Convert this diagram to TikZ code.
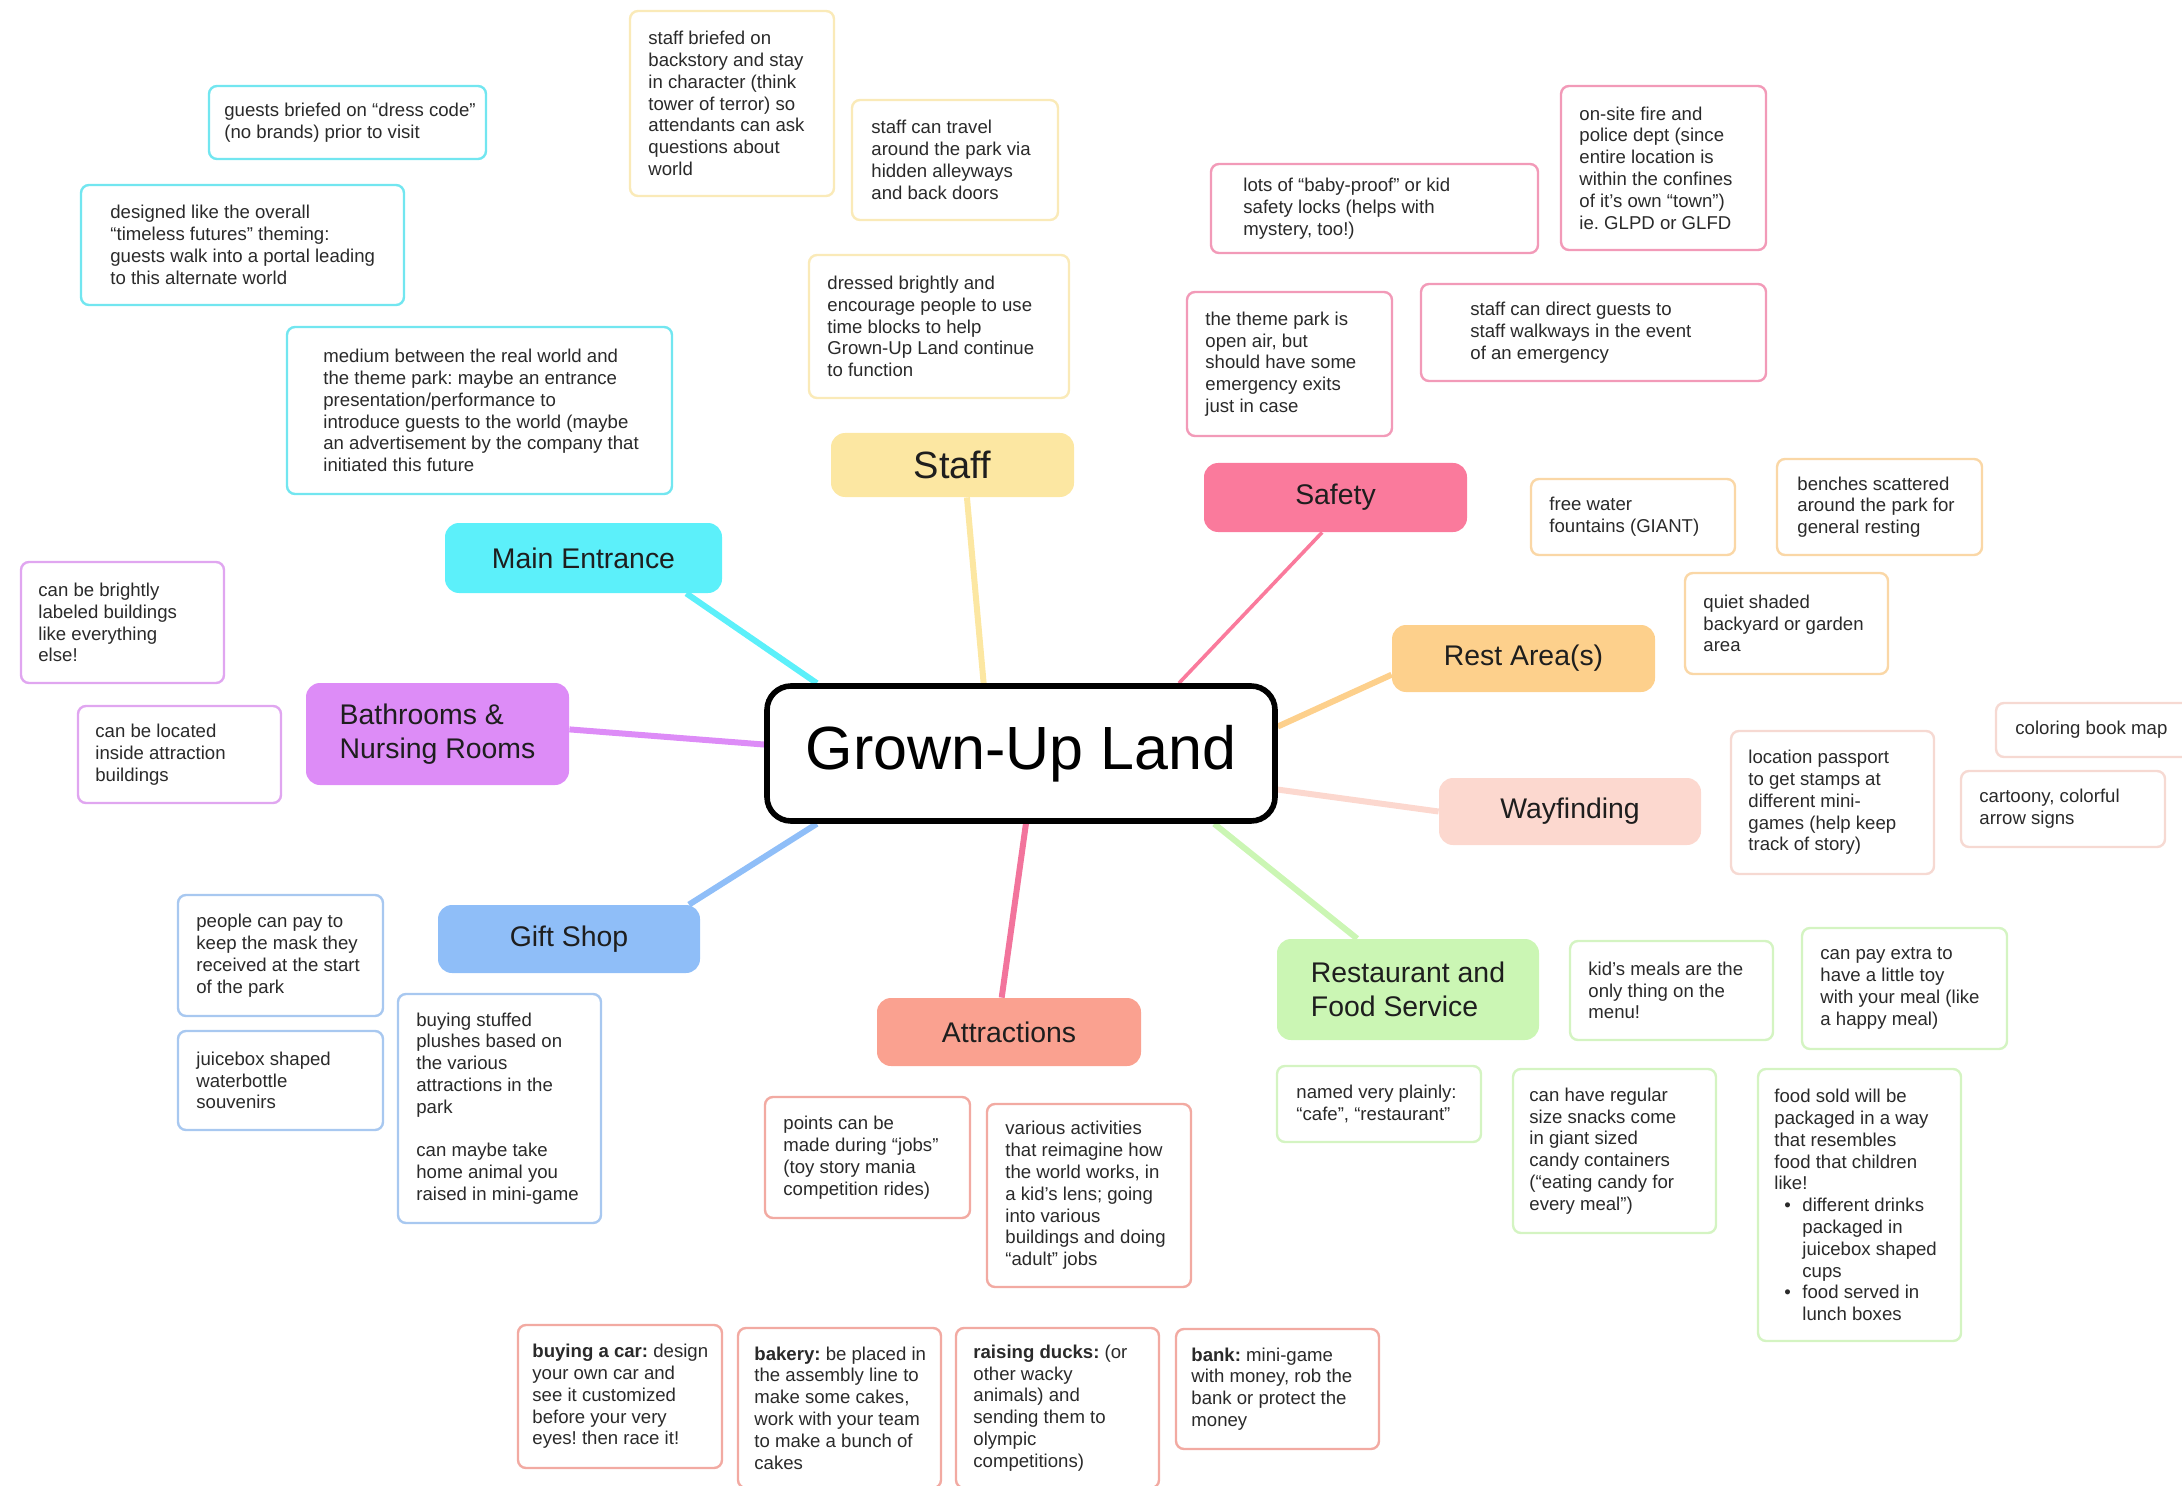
\documentclass[tikz,border=0pt]{standalone}
\usepackage{fontspec}
\setmainfont{Liberation Sans}
\usetikzlibrary{calc}
\pgfdeclarelayer{bg}
\pgfsetlayers{bg,main}
\frenchspacing
\definecolor{cME}{HTML}{5CF0FA}
\definecolor{cStaff}{HTML}{FCE7A2}
\definecolor{cSafety}{HTML}{FA7A9C}
\definecolor{cRest}{HTML}{FDD08C}
\definecolor{cWay}{HTML}{FCD8CF}
\definecolor{cFood}{HTML}{CBF6B4}
\definecolor{cAttr}{HTML}{FAA190}
\definecolor{cGift}{HTML}{8FBEF8}
\definecolor{cBath}{HTML}{DD8CF7}
\definecolor{lAttr}{HTML}{F2749C}
\definecolor{bME}{HTML}{72E6F0}
\definecolor{bStaff}{HTML}{FAEAB8}
\definecolor{bSafety}{HTML}{F29AB8}
\definecolor{bRest}{HTML}{FAD7A6}
\definecolor{bWay}{HTML}{F6D9D2}
\definecolor{bFood}{HTML}{D4F4C2}
\definecolor{bAttr}{HTML}{F2AAA2}
\definecolor{bGift}{HTML}{A8C8F0}
\definecolor{bBath}{HTML}{E0A6F0}
\definecolor{ntext}{HTML}{2A2A2A}
\definecolor{ttext}{HTML}{1E1E1E}
\tikzset{
  notebox/.style={draw=#1, line width=1.2pt, rounded corners=4pt, fill=white, inner sep=0pt},
  notetext/.style={anchor=west, inner sep=0pt, align=left, text=ntext, font=\fontsize{9.3pt}{10.9pt}\selectfont},
  topicbox/.style={fill=#1, rounded corners=7pt, inner sep=0pt, align=left, text=ttext, font=\fontsize{14.2pt}{16.7pt}\selectfont},
  link/.style={draw=#1, line width=3pt},
}
\newcommand\notebx[8]{%
  \node[notebox=#7, minimum width={(#4-#2)*0.5pt}, minimum height={(#5-#3)*0.5pt}] (#1) at ({(#2+#4)/2},{(#3+#5)/2}) {};
  \node[notetext] (#1t) at (#6,{(#3+#5)/2}) {#8};
}
\newcommand\topicnd[7]{%
  \node[topicbox=#6, minimum width={(#4-#2)*0.5pt}, minimum height={(#5-#3)*0.5pt}] (#1) at ({(#2+#4)/2},{(#3+#5)/2}) {#7};
}
\newcommand\bulit{\makebox[14pt][l]{\hspace{5pt}\textbullet}}
\newcommand\bulcont{\hspace*{14pt}}
\begin{document}
\begin{tikzpicture}[x=0.5pt,y=-0.5pt]
\useasboundingbox (0,0) rectangle (2182,1486);

% central
\node[draw=black, line width=2.8pt, rounded corners=12pt, fill=white, minimum width=254pt, minimum height=67.5pt, inner sep=0pt, font=\fontsize{30.5pt}{36pt}\selectfont] (gul) at (1021,753.5) {Grown-Up Land};

% topics
\topicnd{me}{445}{523}{722}{593}{cME}{Main Entrance}
\node[topicbox=cStaff, minimum width=121.5pt, minimum height=32pt, font=\fontsize{19pt}{22pt}\selectfont] (staff) at (952.5,465) {Staff};
\topicnd{safety}{1204}{463}{1467}{532}{cSafety}{Safety}
\topicnd{rest}{1392}{625}{1655}{692}{cRest}{Rest Area(s)}
\topicnd{way}{1439}{778}{1701}{845}{cWay}{Wayfinding}
\topicnd{food}{1277}{939}{1539}{1040}{cFood}{Restaurant and\\Food Service}
\topicnd{attr}{877}{998}{1141}{1066}{cAttr}{Attractions}
\topicnd{gift}{438}{905}{700}{973}{cGift}{Gift Shop}
\topicnd{bath}{306}{683}{569}{785}{cBath}{Bathrooms \&\\Nursing Rooms}

% connectors
\begin{pgfonlayer}{bg}
\draw[link=cME] (gul.161) -- (me.-19);
\draw[link=cStaff] (gul.118) -- (staff.-66);
\draw[link=cSafety, line width=1.8pt] (gul.24) -- (safety.-111);
\draw[link=cRest] (gul.6) -- (rest.187);
\draw[link=cWay] (gul.-8) -- (way.180);
\draw[link=cFood] (gul.-20) -- (food.135);
\draw[link=lAttr] (gul.-86) -- (attr.102);
\draw[link=cGift] (gul.199) -- (gift.16);
\draw[link=cBath] (gul.178.5) -- (bath.2);
\end{pgfonlayer}

% Main Entrance notes
\notebx{n1}{209}{86}{486}{159}{224}{bME}{guests briefed on “dress code”\\(no brands) prior to visit}
\notebx{n2}{81}{185}{404}{305}{110}{bME}{designed like the overall\\“timeless futures” theming:\\guests walk into a portal leading\\to this alternate world}
\notebx{n3}{287}{327}{672}{494}{323}{bME}{medium between the real world and\\the theme park: maybe an entrance\\presentation/performance to\\introduce guests to the world (maybe\\an advertisement by the company that\\initiated this future}

% Staff notes
\notebx{n4}{630}{11}{834}{196}{648}{bStaff}{staff briefed on\\backstory and stay\\in character (think\\tower of terror) so\\attendants can ask\\questions about\\world}
\notebx{n5}{852}{100}{1058}{220}{871}{bStaff}{staff can travel\\around the park via\\hidden alleyways\\and back doors}
\notebx{n6}{809}{255}{1069}{398}{827}{bStaff}{dressed brightly and\\encourage people to use\\time blocks to help\\Grown-Up Land continue\\to function}

% Safety notes
\notebx{n7}{1211}{164}{1538}{253}{1243}{bSafety}{lots of “baby-proof” or kid\\safety locks (helps with\\mystery, too!)}
\notebx{n8}{1561}{86}{1766}{250}{1579}{bSafety}{on-site fire and\\police dept (since\\entire location is\\within the confines\\of it’s own “town”)\\ie. GLPD or GLFD}
\notebx{n9}{1187}{292}{1392}{436}{1205}{bSafety}{the theme park is\\open air, but\\should have some\\emergency exits\\just in case}
\notebx{n10}{1421}{284}{1766}{381}{1470}{bSafety}{staff can direct guests to\\staff walkways in the event\\of an emergency}

% Rest notes
\notebx{n11}{1531}{479}{1735}{555}{1549}{bRest}{free water\\fountains (GIANT)}
\notebx{n12}{1777}{459}{1982}{555}{1797}{bRest}{benches scattered\\around the park for\\general resting}
\notebx{n13}{1685}{573}{1888}{674}{1703}{bRest}{quiet shaded\\backyard or garden\\area}

% Wayfinding notes
\notebx{n14}{1731}{731}{1934}{874}{1748}{bWay}{location passport\\to get stamps at\\different mini-\\games (help keep\\track of story)}
\notebx{n15}{1996}{703}{2200}{757}{2015}{bWay}{coloring book map}
\notebx{n16}{1961}{771}{2165}{847}{1979}{bWay}{cartoony, colorful\\arrow signs}

% Food notes
\notebx{n17}{1570}{941}{1773}{1040}{1588}{bFood}{kid’s meals are the\\only thing on the\\menu!}
\notebx{n18}{1802}{928}{2007}{1049}{1820}{bFood}{can pay extra to\\have a little toy\\with your meal (like\\a happy meal)}
\notebx{n19}{1277}{1066}{1481}{1142}{1296}{bFood}{named very plainly:\\“cafe”, “restaurant”}
\notebx{n20}{1513}{1069}{1716}{1233}{1529}{bFood}{can have regular\\size snacks come\\in giant sized\\candy containers\\(“eating candy for\\every meal”)}
\notebx{n21}{1758}{1069}{1961}{1341}{1774}{bFood}{food sold will be\\packaged in a way\\that resembles\\food that children\\like!\\\bulit different drinks\\\bulcont packaged in\\\bulcont juicebox shaped\\\bulcont cups\\\bulit food served in\\\bulcont lunch boxes}

% Attractions notes
\notebx{n22}{765}{1097}{970}{1218}{783}{bAttr}{points can be\\made during “jobs”\\(toy story mania\\competition rides)}
\notebx{n23}{987}{1104}{1191}{1287}{1005}{bAttr}{various activities\\that reimagine how\\the world works, in\\a kid’s lens; going\\into various\\buildings and doing\\“adult” jobs}
\notebx{n24}{518}{1325}{722}{1468}{532}{bAttr}{\textbf{buying a car:} design\\your own car and\\see it customized\\before your very\\eyes! then race it!}
\notebx{n25}{738}{1328}{941}{1488}{754}{bAttr}{\textbf{bakery:} be placed in\\the assembly line to\\make some cakes,\\work with your team\\to make a bunch of\\cakes}
\notebx{n26}{956}{1328}{1159}{1488}{973}{bAttr}{\textbf{raising ducks:} (or\\other wacky\\animals) and\\sending them to\\olympic\\competitions)}
\notebx{n27}{1176}{1329}{1379}{1449}{1191}{bAttr}{\textbf{bank:} mini-game\\with money, rob the\\bank or protect the\\money}

% Bathroom notes
\notebx{n28}{21}{562}{224}{683}{38}{bBath}{can be brightly\\labeled buildings\\like everything\\else!}
\notebx{n29}{78}{706}{281}{803}{95}{bBath}{can be located\\inside attraction\\buildings}

% Gift shop notes
\notebx{n30}{178}{895}{383}{1016}{196}{bGift}{people can pay to\\keep the mask they\\received at the start\\of the park}
\notebx{n31}{178}{1031}{383}{1130}{196}{bGift}{juicebox shaped\\waterbottle\\souvenirs}
\notebx{n32}{398}{994}{601}{1223}{416}{bGift}{buying stuffed\\plushes based on\\the various\\attractions in the\\park\\[10.9pt]can maybe take\\home animal you\\raised in mini-game}
\end{tikzpicture}
\end{document}
